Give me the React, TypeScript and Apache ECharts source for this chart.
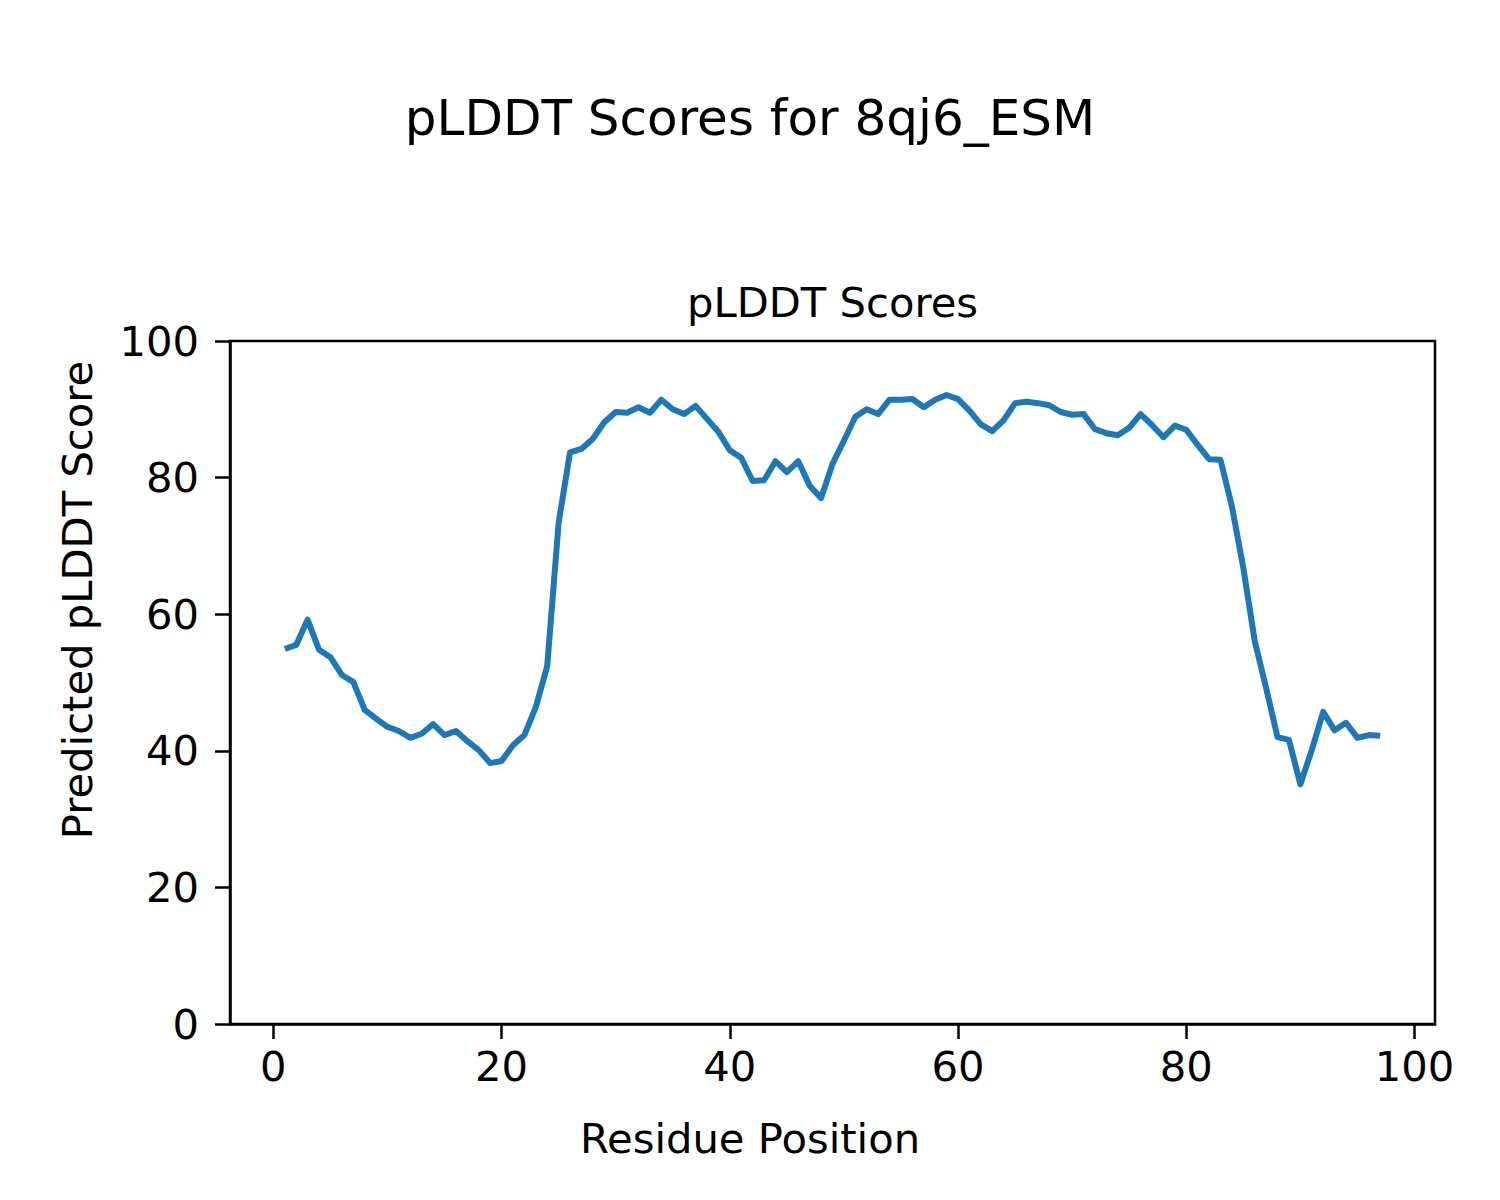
import React, { useEffect, useRef } from "react";
import * as echarts from "echarts";

const residues: number[] = Array.from({ length: 97 }, (_, i) => i + 1);
const plddt: number[] = [
  54.9, 55.5, 59.2, 54.8, 53.7, 51.1, 50.1, 46.0, 44.7, 43.5,
  42.9, 41.9, 42.5, 43.9, 42.3, 42.9, 41.4, 40.1, 38.2, 38.5,
  40.8, 42.3, 46.4, 52.4, 73.4, 83.7, 84.2, 85.7, 88.1, 89.6,
  89.5, 90.3, 89.5, 91.4, 90.0, 89.3, 90.5, 88.6, 86.7, 84.0,
  82.9, 79.5, 79.6, 82.4, 80.8, 82.4, 78.8, 77.0, 82.0, 85.4,
  88.9, 90.0, 89.3, 91.4, 91.4, 91.5, 90.3, 91.4, 92.1, 91.5,
  89.8, 87.8, 86.8, 88.4, 90.9, 91.1, 90.9, 90.6, 89.6, 89.2,
  89.3, 87.1, 86.5, 86.2, 87.3, 89.3, 87.7, 85.9, 87.6, 87.0,
  84.8, 82.7, 82.6, 75.8, 66.8, 56.1, 49.2, 42.0, 41.6, 35.1,
  40.1, 45.7, 43.0, 44.1, 41.9, 42.3, 42.2,
];
const xTicks: number[] = [0, 20, 40, 60, 80, 100];

const FONT = "DejaVu Sans";

export default function App() {
  const ref = useRef<HTMLDivElement>(null);
  useEffect(() => {
    document.body.style.margin = "0";
    if (!ref.current) return;
    const chart = echarts.init(ref.current, null, { renderer: "svg" });
    const gl = 230, gt = 341, gw = 1205, gh = 683;
    chart.setOption({
      animation: false,
      backgroundColor: "#ffffff",
      grid: { left: gl, top: gt, width: gw, height: gh, show: true, borderColor: "#000", borderWidth: 2.5, backgroundColor: "transparent" },
      xAxis: {
        type: "value",
        min: -3.8,
        max: 101.8,
        axisLine: { show: true, onZero: false, lineStyle: { color: "#000", width: 2.5 } },
        axisTick: { show: true, inside: false, length: 15, lineStyle: { color: "#000", width: 2.5 }, customValues: xTicks },
        axisLabel: { show: true, margin: 21, color: "#000", fontSize: 41.7, fontFamily: FONT, customValues: xTicks },
        splitLine: { show: false },
      },
      yAxis: {
        type: "value",
        min: 0,
        max: 100,
        interval: 20,
        axisLine: { show: true, onZero: false, lineStyle: { color: "#000", width: 2.5 } },
        axisTick: { show: true, inside: false, length: 15, lineStyle: { color: "#000", width: 2.5 } },
        axisLabel: { show: true, margin: 31, color: "#000", fontSize: 41.7, fontFamily: FONT },
        splitLine: { show: false },
      },
      series: [
        {
          type: "line",
          data: residues.map((r, i) => [r, plddt[i]]),
          showSymbol: false,
          symbol: "none",
          lineStyle: { color: "#1f77b4", width: 6, join: "round", cap: "butt" },
          itemStyle: { color: "#1f77b4" },
          silent: true,
        },
      ],
      graphic: [
        { type: "text", x: 750, y: 118, style: { text: "pLDDT Scores for 8qj6_ESM", fontSize: 50, fontFamily: FONT, fill: "#000", textAlign: "center", textVerticalAlign: "middle" } },
        { type: "text", x: gl + gw / 2, y: 302, style: { text: "pLDDT Scores", fontSize: 41.7, fontFamily: FONT, fill: "#000", textAlign: "center", textVerticalAlign: "middle" } },
        { type: "text", x: 750, y: 1138, style: { text: "Residue Position", fontSize: 41.7, fontFamily: FONT, fill: "#000", textAlign: "center", textVerticalAlign: "middle" } },
        { type: "text", x: 77, y: 600, rotation: Math.PI / 2, style: { text: "Predicted pLDDT Score", fontSize: 41.7, fontFamily: FONT, fill: "#000", textAlign: "center", textVerticalAlign: "middle" } },
      ],
    });
    return () => chart.dispose();
  }, []);
  return <div ref={ref} style={{ width: 1500, height: 1200 }} />;
}
